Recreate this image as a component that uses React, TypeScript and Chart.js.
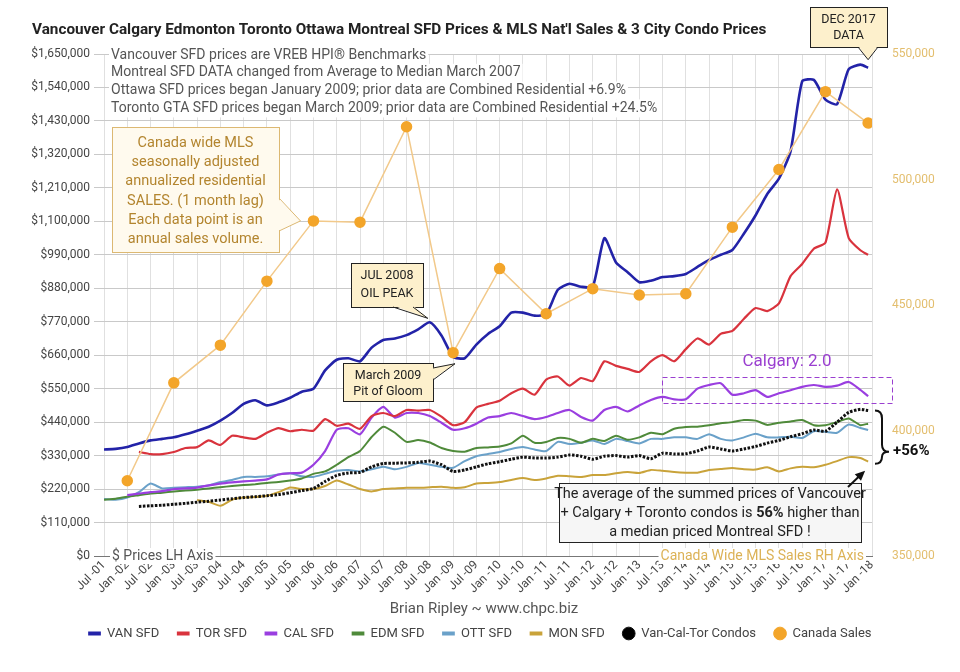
import React, { useEffect, useRef } from "react";
import { Chart, registerables } from "chart.js";

Chart.register(...registerables);

const FONT = "Roboto, 'Noto Sans', sans-serif";
Chart.defaults.font.family = FONT;

const TITLE =
  "Vancouver Calgary Edmonton Toronto Ottawa Montreal SFD Prices & MLS Nat'l Sales & 3 City Condo Prices";

// x tick labels, one every 6 months starting Jul 2001
const xTickLabels = [
  "Jul -01", "Jan -02", "Jul -02", "Jan -03", "Jul -03", "Jan -04", "Jul -04", "Jan -05", "Jul -05",
  "Jan -06", "Jul -06", "Jan -07", "Jul -07", "Jan -08", "Jul -08", "Jan -09", "Jul -09", "Jan -10",
  "Jul -10", "Jan -11", "Jul -11", "Jan -12", "Jul -12", "Jan -13", "Jul -13", "Jan -14", "Jul -14",
  "Jan -15", "Jul -15", "Jan -16", "Jul -16", "Jan -17", "Jul -17", "Jan -18",
];

// month offsets from Jul 2001 of the sampled price readings
const sampleMonths = [
  0, 3, 6, 9, 12, 15, 18, 21, 24, 27, 30, 33, 36, 39, 42, 45, 48, 51, 54, 57, 60, 63, 66, 69, 72, 75,
  78, 81, 84, 87, 90, 93, 96, 99, 102, 105, 108, 111, 114, 117, 120, 123, 126, 129, 132, 135, 138,
  141, 144, 147, 150, 153, 156, 159, 162, 165, 168, 171, 174, 177, 180, 183, 186, 189, 192, 195, 197,
];

// prices in $ thousands
const vanSFD = [
  350, 352, 358, 370, 380, 385, 390, 400, 412, 425,
  445, 470, 500, 512, 495, 505, 520, 540, 550, 610,
  645, 650, 640, 685, 710, 715, 726, 745, 768, 725,
  655, 650, 695, 730, 755, 800, 800, 790, 795, 875,
  895, 885, 885, 1045, 965, 933, 900, 905, 917, 920,
  927, 950, 973, 990, 1006, 1060, 1120, 1190, 1240, 1330,
  1560, 1565, 1500, 1485, 1600, 1615, 1605,
];
const torSFD = [
  null, null, null, 342, 335, 335, 342, 355, 358, 380,
  365, 395, 390, 385, 405, 420, 410, 415, 412, 450,
  428, 435, 418, 460, 470, 460, 480, 478, 480, 458,
  430, 440, 488, 500, 510, 535, 550, 530, 580, 590,
  560, 585, 575, 640, 625, 615, 605, 640, 660, 640,
  680, 715, 695, 730, 740, 780, 815, 805, 830, 920,
  960, 1010, 1030, 1205, 1045, 1005, 990,
];
const calSFD = [
  null, null, 200, 205, 210, 213, 220, 222, 225, 232,
  238, 242, 245, 248, 252, 268, 272, 274, 300, 345,
  415, 420, 400, 455, 490, 455, 470, 470, 460, 438,
  415, 420, 435, 455, 460, 470, 460, 450, 457, 470,
  480, 457, 445, 480, 490, 475, 495, 513, 523, 515,
  515, 550, 562, 568, 530, 535, 545, 523, 535, 545,
  556, 562, 556, 560, 572, 546, 525,
];
const edmSFD = [
  185, 188, 195, 200, 205, 208, 212, 215, 218, 222,
  226, 230, 233, 236, 240, 243, 248, 255, 270, 278,
  300, 325, 345, 391, 425, 405, 375, 381, 373, 355,
  345, 343, 355, 357, 360, 370, 395, 372, 375, 388,
  385, 372, 385, 378, 395, 382, 390, 405, 400, 418,
  424, 425, 430, 436, 440, 447, 445, 431, 438, 442,
  447, 430, 430, 440, 452, 430, 435,
];
const ottSFD = [
  187, 185, 192, 210, 238, 222, 224, 226, 228, 232,
  243, 250, 260, 260, 262, 268, 272, 262, 260, 270,
  280, 283, 278, 285, 293, 285, 293, 306, 300, 293,
  290, 312, 328, 335, 342, 352, 358, 350, 345, 375,
  368, 372, 380, 368, 385, 378, 370, 385, 385, 390,
  390, 385, 400, 385, 380, 390, 402, 390, 390, 392,
  388, 410, 408, 405, 432, 421, 414,
];
const monSFD = [
  null, null, null, null, null, null, null, null, 184, 178,
  165, 185, 192, 194, 198, 210, 225, 220, 220, 230,
  248, 235, 220, 212, 220, 222, 224, 224, 226, 228,
  224, 226, 238, 240, 243, 250, 256, 250, 255, 264,
  262, 260, 266, 266, 272, 276, 273, 283, 280, 276,
  274, 274, 283, 286, 289, 285, 284, 292, 278, 288,
  293, 292, 300, 312, 325, 322, 310,
];
const condos = [
  null, null, null, 163, 165, 167, 170, 173, 177, 180,
  184, 188, 192, 195, 198, 202, 208, 215, 222, 245,
  265, 273, 275, 293, 304, 305, 306, 308, 312, 300,
  278, 283, 293, 303, 310, 318, 325, 322, 322, 325,
  332, 328, 318, 328, 330, 325, 330, 320, 338, 335,
  336, 345, 358, 352, 345, 352, 360, 371, 380, 392,
  402, 414, 410, 440, 472, 482, 478,
];

// Canada-wide MLS annualized sales (thousands of units), right axis
const mlsMonths = [6, 18, 30, 42, 54, 66, 78, 90, 102, 114, 126, 138, 150, 162, 174, 186, 197];
const mlsSales = [380, 419, 434, 459.5, 483.5, 483, 521, 431, 464.5, 446.5, 456.5, 454, 454.5, 481, 504, 535, 522.5];

const notes = [
  "Vancouver SFD prices are VREB HPI\u00ae Benchmarks",
  "Montreal SFD DATA changed from Average to Median March 2007",
  "Ottawa SFD prices began January 2009; prior data are Combined Residential +6.9%",
  "Toronto GTA SFD prices began March 2009; prior data are Combined Residential +24.5%",
];
const salesNote = [
  "Canada wide MLS",
  "seasonally adjusted",
  "annualized residential",
  "SALES. (1 month lag)",
  "Each data point is an",
  "annual sales volume.",
];

const PAD_BOTTOM = 22;

function toPoints(months: number[], vals: (number | null)[]) {
  const out: { x: number; y: number }[] = [];
  months.forEach((m, i) => {
    const v = vals[i];
    if (v !== null && v !== undefined) out.push({ x: m, y: v * 1000 });
  });
  return out;
}

function txt(ctx: CanvasRenderingContext2D, s: string, x: number, y: number, font: string, color: string, align: CanvasTextAlign = "left") {
  ctx.font = font;
  ctx.fillStyle = color;
  ctx.textAlign = align;
  ctx.textBaseline = "middle";
  ctx.fillText(s, x, y);
}

function callout(
  ctx: CanvasRenderingContext2D,
  x: number, y: number, w: number, h: number,
  fill: string, stroke: string,
  b1: [number, number], b2: [number, number], tip: [number, number]
) {
  ctx.lineWidth = 1;
  ctx.fillStyle = fill;
  ctx.strokeStyle = stroke;
  ctx.fillRect(x, y, w, h);
  ctx.strokeRect(x + 0.5, y + 0.5, w, h);
  const cx = x + w / 2, cy = y + h / 2;
  const inward = (p: [number, number]): [number, number] => [
    p[0] + Math.sign(cx - p[0]) * (Math.abs(cx - p[0]) > w / 2 - 2 ? 1.5 : 0),
    p[1] + Math.sign(cy - p[1]) * (Math.abs(cy - p[1]) > h / 2 - 2 ? 1.5 : 0),
  ];
  const i1 = inward(b1), i2 = inward(b2);
  ctx.beginPath();
  ctx.moveTo(i1[0], i1[1]);
  ctx.lineTo(tip[0], tip[1]);
  ctx.lineTo(i2[0], i2[1]);
  ctx.closePath();
  ctx.fill();
  ctx.beginPath();
  ctx.moveTo(b1[0], b1[1]);
  ctx.lineTo(tip[0], tip[1]);
  ctx.lineTo(b2[0], b2[1]);
  ctx.stroke();
}

const annotationPlugin = {
  id: "annotations",
  afterDraw(chart: any) {
    const ctx = chart.ctx as CanvasRenderingContext2D;
    const xs = chart.scales.x;
    const yl = chart.scales.y;
    const yr = chart.scales.y2;
    const ca = chart.chartArea;
    const X = (m: number) => xs.getPixelForValue(m);
    const YL = (v: number) => yl.getPixelForValue(v);
    const YR = (v: number) => yr.getPixelForValue(v);
    ctx.save();

    // title
    txt(ctx, TITLE, 32, 30, `bold 15.3px ${FONT}`, "#222");

    // notes top-left
    notes.forEach((s, i) => {
      const y = ca.top + 1 + i * 17.8;
      ctx.font = `14px ${FONT}`;
      const w = ctx.measureText(s).width;
      ctx.fillStyle = "#fff";
      ctx.fillRect(ca.left + 5, y - 9, w + 4, 18);
      txt(ctx, s, ca.left + 7, y, `14px ${FONT}`, "#555");
    });

    // MLS sales callout
    const sTip: [number, number] = [X(mlsMonths[4]) - 13, YR(mlsSales[4] * 1000)];
    callout(ctx, 112, 127, 167, 125, "#fffaee", "#dcb872", [279, 198], [279, 231], sTip);
    salesNote.forEach((s, i) => {
      txt(ctx, s, 195.5, 143 + i * 19.3, `14.5px ${FONT}`, "#b3852f", "center");
    });

    // JUL 2008 OIL PEAK
    const peakIdx = sampleMonths.indexOf(84);
    const pTip: [number, number] = [X(84) - 2, YL((vanSFD[peakIdx] as number) * 1000) - 4];
    callout(ctx, 351, 263, 72, 44, "#fdf0cc", "#222", [393, 307], [413, 307], pTip);
    txt(ctx, "JUL 2008", 387, 276, `12.5px ${FONT}`, "#222", "center");
    txt(ctx, "OIL PEAK", 387, 294, `12.5px ${FONT}`, "#222", "center");

    // March 2009 Pit of Gloom
    const lowIdx = sampleMonths.indexOf(90);
    const gTip: [number, number] = [X(90.5), YL((vanSFD[lowIdx] as number) * 1000) + 7];
    callout(ctx, 343, 363, 90, 38, "#fdf0cc", "#222", [433, 368], [433, 380], gTip);
    txt(ctx, "March 2009", 388, 376, `12.5px ${FONT}`, "#222", "center");
    txt(ctx, "Pit of Gloom", 388, 392, `12.5px ${FONT}`, "#222", "center");

    // DEC 2017 DATA
    const last = sampleMonths.length - 1;
    const dTip: [number, number] = [X(sampleMonths[last]), YL((vanSFD[last] as number) * 1000) - 8];
    callout(ctx, 810, 7, 77, 40, "#fdf0cc", "#222", [858, 47], [878, 47], dTip);
    txt(ctx, "DEC 2017", 848.5, 20, `12.5px ${FONT}`, "#222", "center");
    txt(ctx, "DATA", 848.5, 36, `12.5px ${FONT}`, "#222", "center");

    // Calgary 2.0
    txt(ctx, "Calgary: 2.0", 787, 362, `17px ${FONT}`, "#9a3fd0", "center");
    ctx.setLineDash([5, 3]);
    ctx.strokeStyle = "#9a3fd0";
    ctx.lineWidth = 1;
    ctx.strokeRect(662.5, 377.5, 230, 26);
    ctx.setLineDash([]);

    // brace
    const bx = X(198) + 3;
    const bTop = YL((condos[last] as number) * 1000);
    const bBot = YL((monSFD[last] as number) * 1000) + 2;
    const bTipY = bBot - 12;
    ctx.strokeStyle = "#111";
    ctx.lineWidth = 2;
    ctx.beginPath();
    ctx.moveTo(bx, bTop);
    ctx.quadraticCurveTo(bx + 7, bTop, bx + 7, bTop + 8);
    ctx.lineTo(bx + 7, bTipY - 7);
    ctx.quadraticCurveTo(bx + 7, bTipY, bx + 14, bTipY);
    ctx.quadraticCurveTo(bx + 7, bTipY, bx + 7, bTipY + 5);
    ctx.quadraticCurveTo(bx + 7, bBot, bx, bBot);
    ctx.stroke();
    txt(ctx, "+56%", bx + 18, bTipY, `bold 15px ${FONT}`, "#111");

    // bottom explanation box
    ctx.fillStyle = "#f6f6f6";
    ctx.fillRect(559, 483, 302, 59);
    ctx.strokeStyle = "#222";
    ctx.lineWidth = 1;
    ctx.strokeRect(559.5, 483.5, 302, 59);
    const fN = `14.5px ${FONT}`;
    const fB = `bold 14.5px ${FONT}`;
    txt(ctx, "The average of the summed prices of Vancouver", 710, 494, fN, "#222", "center");
    const parts: [string, string][] = [["+ Calgary + Toronto condos is ", fN], ["56%", fB], [" higher than", fN]];
    let tw = 0;
    parts.forEach(([s, f]) => { ctx.font = f; tw += ctx.measureText(s).width; });
    let px = 710 - tw / 2;
    parts.forEach(([s, f]) => {
      txt(ctx, s, px, 513, f, "#222", "left");
      ctx.font = f;
      px += ctx.measureText(s).width;
    });
    txt(ctx, "a median priced Montreal SFD !", 710, 532, fN, "#222", "center");

    // arrow to Montreal end
    const aTip: [number, number] = [X(sampleMonths[last]) - 3, YL((monSFD[last] as number) * 1000) + 9];
    const aTail: [number, number] = [848, 487];
    ctx.strokeStyle = "#111";
    ctx.fillStyle = "#111";
    ctx.lineWidth = 2;
    const ang = Math.atan2(aTip[1] - aTail[1], aTip[0] - aTail[0]);
    ctx.beginPath();
    ctx.moveTo(aTail[0], aTail[1]);
    ctx.lineTo(aTip[0] - Math.cos(ang) * 6, aTip[1] - Math.sin(ang) * 6);
    ctx.stroke();
    ctx.beginPath();
    ctx.moveTo(aTip[0], aTip[1]);
    ctx.lineTo(aTip[0] - Math.cos(ang) * 10 + Math.sin(ang) * 4.5, aTip[1] - Math.sin(ang) * 10 - Math.cos(ang) * 4.5);
    ctx.lineTo(aTip[0] - Math.cos(ang) * 10 - Math.sin(ang) * 4.5, aTip[1] - Math.sin(ang) * 10 + Math.cos(ang) * 4.5);
    ctx.closePath();
    ctx.fill();

    // axis captions
    ctx.font = `14px ${FONT}`;
    const lh = "$ Prices LH Axis";
    const lw = ctx.measureText(lh).width;
    ctx.fillStyle = "#fff";
    ctx.fillRect(ca.left + 6, ca.bottom - 8, lw + 4, 16);
    txt(ctx, lh, ca.left + 8, ca.bottom, `14px ${FONT}`, "#555");
    const rh = "Canada Wide MLS Sales RH Axis";
    ctx.font = `14px ${FONT}`;
    const rw = ctx.measureText(rh).width;
    ctx.fillStyle = "#fff";
    ctx.fillRect(ca.right - 8 - rw - 2, ca.bottom - 8, rw + 4, 16);
    txt(ctx, rh, ca.right - 8, ca.bottom, `14px ${FONT}`, "#dcb256", "right");

    // credit
    txt(ctx, "Brian Ripley ~ www.chpc.biz", 484, 609, `15px ${FONT}`, "#555", "center");

    ctx.restore();
  },
};

function lineDs(label: string, vals: (number | null)[], color: string, width: number, order: number) {
  return {
    label,
    data: toPoints(sampleMonths, vals),
    borderColor: color,
    backgroundColor: color,
    borderWidth: width,
    pointRadius: 0,
    pointHoverRadius: 0,
    pointStyle: "line",
    tension: 0.2,
    yAxisID: "y",
    order,
  };
}

export default function App() {
  const ref = useRef<HTMLCanvasElement>(null);

  useEffect(() => {
    const canvas = ref.current;
    if (!canvas) return;
    const datasets: any[] = [
      lineDs("VAN SFD", vanSFD, "#2323a8", 2.6, 2),
      lineDs("TOR SFD", torSFD, "#d9333d", 2.2, 3),
      lineDs("CAL SFD", calSFD, "#9a3ee0", 2.2, 4),
      lineDs("EDM SFD", edmSFD, "#4f8a3a", 2, 5),
      lineDs("OTT SFD", ottSFD, "#6aa1c9", 2, 6),
      lineDs("MON SFD", monSFD, "#c9a33a", 2, 7),
      {
        ...lineDs("Van-Cal-Tor Condos", condos, "#111", 3, 1),
        borderDash: [2.5, 1.5],
        pointStyle: "circle",
        backgroundColor: "#000",
      },
      {
        label: "Canada Sales",
        data: toPoints(mlsMonths, mlsSales),
        yAxisID: "y2",
        borderColor: "#f2c98a",
        backgroundColor: "#f3a52a",
        borderWidth: 1.5,
        pointRadius: 5,
        pointHoverRadius: 5,
        pointBackgroundColor: "#f3a52a",
        pointBorderColor: "#f3a52a",
        pointStyle: "circle",
        tension: 0,
        order: 0,
      },
    ];

    const chart = new Chart(canvas, {
      type: "line",
      data: { datasets },
      options: {
        animation: false,
        responsive: false,
        maintainAspectRatio: false,
        devicePixelRatio: 1,
        layout: { padding: { top: 54, bottom: PAD_BOTTOM, left: 0, right: 0 } },
        plugins: {
          title: { display: false },
          tooltip: { enabled: false },
          legend: {
            position: "bottom",
            labels: {
              usePointStyle: true,
              boxWidth: 12,
              boxHeight: 9,
              padding: 18,
              color: "#444",
              font: { family: FONT, size: 13 },
              generateLabels: (ch: any) => {
                const items = Chart.defaults.plugins.legend.labels.generateLabels(ch);
                items.forEach((it: any) => {
                  it.lineDash = [];
                  if (it.pointStyle === "line") it.lineWidth = 4;
                  else it.lineWidth = 1;
                });
                return items;
              },
              sort: (a: any, b: any) => a.datasetIndex - b.datasetIndex,
            },
          },
        },
        scales: {
          x: {
            type: "linear",
            min: 0,
            max: 198,
            ticks: {
              stepSize: 6,
              maxTicksLimit: 100,
              autoSkip: false,
              maxRotation: 45,
              minRotation: 45,
              padding: 2,
              color: "#444",
              font: { family: FONT, size: 12 },
              callback: (v: any) => xTickLabels[Math.round(Number(v) / 6)] ?? "",
            },
            grid: { color: "#e0e0e0", drawTicks: false },
            border: { display: true, color: "#777" },
            afterFit: (scale: any) => {
              const lg = scale.chart.legend;
              const lh = lg ? lg.height : 0;
              scale.height = 672 - 556 - lh - PAD_BOTTOM;
            },
          },
          y: {
            position: "left",
            min: 0,
            max: 1650000,
            ticks: {
              stepSize: 110000,
              maxTicksLimit: 100,
              autoSkip: false,
              padding: 4,
              color: "#444",
              font: { family: FONT, size: 12 },
              callback: (v: any) => "$" + Number(v).toLocaleString("en-US"),
            },
            grid: {
              color: (c: any) => (c.tick && c.tick.value === 0 ? "#777" : "#c9c9c9"),
              tickLength: 10,
            },
            border: { display: false },
            afterFit: (scale: any) => {
              scale.width = 104;
            },
          },
          y2: {
            position: "right",
            min: 350000,
            max: 550000,
            ticks: {
              stepSize: 50000,
              maxTicksLimit: 100,
              padding: 20,
              color: "#e3be6e",
              font: { family: FONT, size: 12 },
              callback: (v: any) => Number(v).toLocaleString("en-US"),
            },
            grid: { display: false, drawTicks: false },
            border: { display: false },
            afterFit: (scale: any) => {
              scale.width = 88;
            },
          },
        },
      } as any,
      plugins: [annotationPlugin],
    });
    return () => chart.destroy();
  }, []);

  return (
    <div style={{ position: "absolute", left: 0, top: 0, width: 960, height: 672, background: "#fff" }}>
      <canvas ref={ref} width={960} height={672} style={{ display: "block", width: 960, height: 672 }} />
    </div>
  );
}
